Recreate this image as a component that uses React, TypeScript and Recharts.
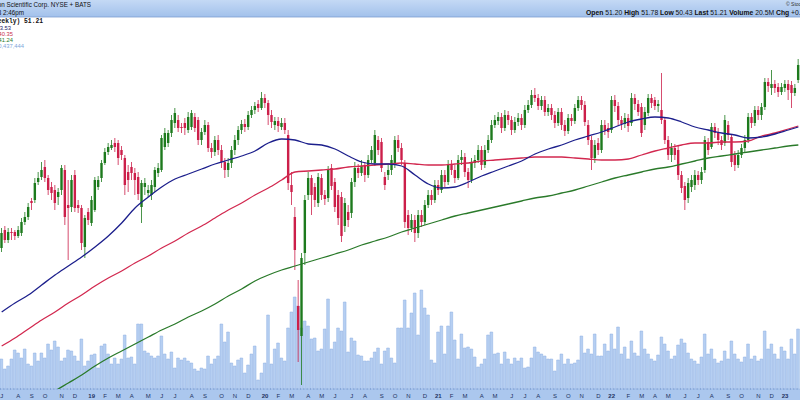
import { ComposedChart, Bar, Line, XAxis, YAxis } from 'recharts';

// weekly bars, first week starts Mon 2 Jul 2018
const firstWeek = Date.UTC(2018, 6, 2);
const WEEK_MS = 7 * 24 * 3600 * 1000;
const monthLetters = ['J', 'F', 'M', 'A', 'M', 'J', 'J', 'A', 'S', 'O', 'N', 'D'];

// [open, high, low, close]
const candles: number[][] = [
  [32.9, 34.9, 32.5, 34.4], [34.7, 35.1, 33.4, 33.7], [33.7, 34.9, 33.4, 34.5], [34.5, 34.9, 33.7, 34.4],
  [34.5, 34.7, 33.7, 34.1], [34.1, 35.1, 33.9, 34.7], [34.4, 35.9, 34.1, 35.5], [35.5, 36.5, 35.2, 36.0],
  [36.0, 37.4, 35.7, 37.0], [37.6, 37.9, 36.7, 37.4], [37.7, 39.9, 37.4, 39.4], [39.5, 40.5, 39.2, 39.9],
  [40.0, 41.5, 39.7, 40.7], [41.0, 41.7, 39.5, 39.9], [39.9, 40.2, 38.2, 38.7], [39.0, 39.5, 37.7, 38.4],
  [38.7, 39.2, 36.7, 37.4], [38.0, 38.9, 37.2, 38.5], [38.7, 41.2, 38.2, 40.9], [40.7, 41.2, 35.2, 36.0],
  [37.2, 39.7, 31.7, 36.9], [37.0, 40.2, 36.5, 39.7], [40.2, 40.7, 36.5, 36.9], [37.2, 37.7, 36.4, 36.9],
  [36.9, 37.2, 32.7, 33.4], [33.0, 36.2, 31.9, 35.9], [36.5, 36.9, 35.2, 35.7], [35.4, 38.1, 35.1, 37.7],
  [36.7, 40.0, 36.5, 39.7], [39.0, 40.1, 38.7, 39.7], [39.9, 41.7, 39.5, 41.4], [41.4, 42.9, 41.2, 42.5],
  [42.5, 43.4, 42.2, 43.0], [42.9, 43.7, 42.7, 43.2], [43.4, 43.9, 42.5, 43.0], [43.4, 43.7, 41.2, 41.9],
  [42.7, 43.1, 41.7, 42.2], [41.9, 42.2, 38.2, 39.2], [40.5, 41.2, 38.5, 39.7], [41.0, 41.5, 39.7, 40.4],
  [40.4, 40.9, 38.2, 39.7], [40.0, 40.5, 37.7, 38.3], [37.0, 39.7, 35.4, 39.4], [39.0, 39.9, 38.2, 39.4],
  [38.4, 39.2, 38.0, 38.7], [38.2, 39.7, 37.7, 39.2], [39.0, 41.0, 38.5, 40.7], [40.4, 41.4, 40.0, 40.9],
  [40.7, 44.2, 40.5, 43.9], [43.0, 44.9, 42.7, 44.4], [43.4, 44.7, 43.0, 44.4], [44.4, 46.2, 44.0, 45.7],
  [45.4, 46.9, 44.9, 46.4], [45.7, 46.2, 44.5, 44.9], [45.0, 45.4, 44.4, 44.9], [45.4, 45.9, 44.2, 44.9],
  [44.7, 46.5, 44.4, 46.0], [45.0, 46.7, 44.7, 46.4], [46.0, 46.4, 44.5, 44.9], [45.7, 46.0, 43.2, 43.7],
  [43.7, 44.9, 43.2, 44.5], [44.5, 45.7, 44.2, 45.2], [45.2, 45.5, 42.5, 42.9], [42.9, 43.4, 41.9, 42.5],
  [42.5, 44.1, 42.1, 43.7], [43.7, 44.2, 42.2, 42.7], [42.7, 43.2, 40.9, 41.5], [41.5, 41.9, 39.9, 40.7],
  [40.7, 41.9, 40.0, 41.4], [41.4, 43.1, 40.9, 42.7], [42.7, 44.2, 42.2, 43.7], [43.7, 45.1, 43.2, 44.7],
  [44.7, 45.7, 44.3, 45.3], [45.3, 45.8, 44.5, 45.0], [45.0, 46.6, 44.7, 46.2], [46.2, 47.1, 45.9, 46.7],
  [46.7, 47.5, 46.3, 47.1], [47.3, 47.7, 46.5, 46.9], [46.9, 48.5, 46.7, 47.9], [47.9, 48.3, 46.9, 47.4],
  [47.4, 47.7, 45.2, 46.2], [46.2, 46.7, 44.9, 45.5], [45.2, 46.0, 44.7, 45.6], [45.6, 46.0, 44.5, 45.1],
  [45.0, 45.9, 44.7, 45.4], [45.4, 45.9, 44.3, 44.7], [44.2, 44.7, 38.7, 39.4], [39.2, 40.5, 37.2, 38.5],
  [36.0, 37.0, 30.7, 32.7], [27.1, 29.7, 21.5, 24.7], [24.1, 32.4, 19.2, 31.9], [32.4, 38.2, 31.2, 37.7],
  [38.2, 40.5, 37.7, 39.9], [39.9, 40.2, 36.2, 38.2], [39.0, 39.4, 37.0, 37.7], [37.4, 40.4, 37.0, 40.0],
  [39.9, 40.3, 37.7, 38.2], [38.2, 38.7, 37.2, 37.8], [37.9, 41.1, 37.5, 40.7], [40.9, 41.3, 38.7, 39.1],
  [39.5, 39.9, 36.5, 37.0], [38.2, 38.7, 35.2, 35.9], [38.0, 38.5, 33.5, 34.1], [35.1, 37.9, 34.5, 37.4],
  [36.5, 37.2, 35.0, 35.7], [36.4, 39.9, 35.9, 39.5], [39.5, 41.5, 39.0, 40.9], [40.9, 41.3, 39.9, 40.4],
  [40.4, 41.7, 40.1, 41.1], [41.1, 41.5, 39.5, 40.2], [40.2, 42.2, 39.9, 41.7], [41.7, 43.1, 41.4, 42.7],
  [41.4, 44.7, 41.1, 44.2], [43.7, 44.1, 42.2, 42.7], [43.5, 43.9, 40.5, 40.9], [40.0, 40.5, 38.7, 39.2],
  [40.2, 41.2, 39.7, 40.7], [40.7, 42.2, 40.2, 41.7], [41.2, 44.1, 40.9, 43.7], [43.7, 44.2, 42.5, 42.9],
  [42.9, 43.4, 41.2, 41.7], [41.4, 41.7, 34.9, 35.5], [36.2, 36.7, 34.2, 34.9], [34.9, 36.3, 34.5, 35.7],
  [35.7, 36.2, 33.5, 34.4], [34.4, 36.7, 33.9, 36.2], [36.2, 36.7, 35.0, 35.5], [35.5, 37.7, 35.2, 37.2],
  [37.2, 38.7, 36.9, 38.2], [38.2, 38.7, 37.2, 37.7], [37.7, 39.7, 37.4, 39.2], [39.2, 39.7, 38.2, 38.7],
  [38.7, 40.7, 38.4, 40.2], [40.2, 40.7, 39.0, 39.5], [39.5, 41.7, 39.2, 41.2], [41.2, 41.7, 40.2, 40.7],
  [40.7, 41.2, 39.4, 39.9], [39.9, 42.2, 39.7, 41.7], [41.7, 42.7, 41.2, 42.0], [42.0, 42.4, 40.0, 40.5],
  [40.5, 40.9, 38.9, 39.7], [39.7, 41.9, 39.4, 41.4], [41.4, 42.2, 40.9, 41.7], [41.7, 43.2, 41.4, 42.7],
  [42.7, 43.1, 40.7, 41.2], [41.2, 43.2, 40.9, 42.7], [42.7, 44.2, 42.4, 43.7], [43.7, 45.7, 43.4, 45.2],
  [45.2, 46.2, 44.9, 45.7], [45.6, 46.5, 45.2, 46.0], [46.0, 46.4, 44.4, 44.9], [44.9, 46.7, 44.6, 46.2],
  [46.2, 46.6, 45.2, 45.7], [45.7, 46.1, 44.2, 44.7], [44.7, 46.0, 44.4, 45.5], [45.5, 46.4, 45.1, 45.9],
  [45.9, 46.3, 44.7, 45.2], [45.2, 47.2, 44.9, 46.7], [46.7, 47.7, 46.4, 47.2], [47.2, 48.7, 46.9, 48.2],
  [48.2, 48.9, 47.5, 47.9], [47.9, 48.3, 46.7, 47.1], [47.1, 48.1, 46.7, 47.7], [47.7, 48.1, 46.1, 46.5],
  [46.5, 47.3, 46.1, 46.9], [46.9, 47.3, 45.7, 46.2], [46.2, 46.6, 44.9, 45.4], [45.4, 46.9, 45.1, 46.5],
  [46.5, 46.9, 44.7, 45.2], [45.2, 45.7, 44.1, 44.6], [44.6, 46.3, 44.3, 45.9], [45.9, 46.3, 45.1, 45.6],
  [45.6, 47.3, 45.3, 46.9], [46.9, 48.1, 46.6, 47.7], [47.7, 48.1, 46.7, 47.2], [47.2, 47.6, 45.1, 45.5],
  [45.2, 45.7, 43.2, 43.7], [43.7, 44.1, 40.7, 41.9], [41.9, 43.7, 41.4, 43.2], [43.4, 43.9, 42.2, 42.7],
  [42.7, 45.7, 42.4, 45.2], [45.2, 45.7, 44.2, 44.7], [44.9, 45.4, 43.9, 44.5], [44.7, 48.1, 44.4, 47.7],
  [47.7, 48.2, 46.5, 47.1], [47.1, 47.5, 45.1, 45.7], [45.7, 46.1, 44.7, 45.3], [45.3, 46.4, 44.9, 45.9],
  [45.9, 46.3, 44.5, 45.1], [45.4, 48.4, 45.1, 47.9], [47.9, 48.3, 46.7, 47.3], [47.3, 47.7, 46.1, 46.5],
  [47.0, 47.4, 44.0, 44.4], [45.2, 47.0, 44.7, 46.5], [46.4, 48.3, 46.1, 47.9], [47.9, 48.3, 46.9, 47.4],
  [47.7, 48.0, 46.7, 47.1], [47.1, 47.7, 46.5, 47.3], [46.7, 50.4, 45.3, 45.7], [45.7, 46.0, 43.3, 43.7],
  [43.7, 44.1, 41.7, 42.2], [42.2, 43.4, 41.5, 42.9], [42.9, 43.3, 41.7, 42.2], [42.7, 43.1, 39.7, 40.2],
  [40.2, 40.6, 38.4, 38.9], [39.1, 39.5, 36.7, 37.7], [37.9, 39.9, 37.4, 39.4], [39.0, 40.2, 38.5, 39.7],
  [39.2, 40.7, 38.7, 40.2], [40.2, 40.6, 39.2, 39.7], [39.7, 41.0, 39.3, 40.5], [40.7, 44.1, 40.4, 43.7],
  [43.5, 43.9, 42.2, 42.7], [43.0, 45.4, 42.8, 45.0], [45.0, 45.4, 43.9, 44.4], [44.4, 44.9, 43.2, 43.7],
  [43.7, 44.1, 42.7, 43.2], [43.4, 46.2, 43.1, 45.7], [45.2, 45.6, 43.7, 44.2], [44.0, 44.3, 41.0, 41.5],
  [42.2, 42.6, 40.6, 41.2], [41.2, 42.7, 40.9, 42.2], [42.2, 43.3, 41.9, 42.9], [42.9, 44.2, 42.5, 43.7],
  [43.7, 46.4, 43.4, 46.0], [46.0, 46.4, 44.9, 45.4], [45.4, 47.1, 45.1, 46.7], [46.7, 47.1, 45.7, 46.2],
  [46.2, 47.4, 45.7, 47.0], [47.0, 49.9, 46.7, 49.5], [49.5, 49.9, 48.5, 49.1], [48.9, 50.7, 48.2, 49.3],
  [49.3, 49.7, 48.4, 48.9], [49.0, 49.4, 48.0, 48.5], [48.5, 49.4, 48.2, 49.0], [48.9, 49.7, 48.5, 49.3],
  [49.3, 49.7, 47.7, 48.7], [49.2, 49.6, 46.9, 48.4], [48.4, 49.3, 48.1, 48.9], [49.7, 51.8, 49.4, 51.2],
];

// weekly volume, millions
const volumes = [
  30, 20, 23, 30, 39, 36, 31, 40, 25, 23, 36, 28, 36, 31, 45, 39, 48, 42, 28, 31,
  39, 38, 33, 28, 50, 23, 28, 34, 35, 21, 43, 45, 35, 25, 31, 25, 30, 54, 31, 32,
  25, 65, 65, 38, 36, 33, 31, 33, 53, 35, 30, 37, 21, 31, 29, 31, 28, 26, 20, 18,
  21, 20, 33, 25, 30, 33, 65, 47, 57, 26, 23, 29, 31, 16, 24, 35, 43, 9, 16, 26,
  74, 25, 40, 46, 31, 28, 61, 77, 92, 83, 61, 68, 63, 50, 51, 38, 40, 60, 90, 40,
  47, 61, 58, 87, 37, 51, 48, 34, 33, 28, 28, 31, 37, 41, 25, 38, 41, 31, 26, 61,
  61, 89, 61, 76, 96, 54, 99, 81, 74, 29, 26, 57, 63, 35, 63, 77, 49, 30, 55, 41,
  42, 40, 32, 22, 25, 30, 54, 57, 35, 36, 25, 37, 30, 25, 31, 28, 31, 21, 22, 31,
  42, 37, 35, 33, 30, 30, 18, 29, 35, 25, 30, 25, 26, 29, 53, 36, 40, 35, 55, 33,
  33, 45, 38, 55, 40, 62, 35, 42, 30, 48, 36, 33, 58, 40, 35, 30, 28, 34, 52, 45,
  38, 30, 33, 44, 50, 46, 36, 30, 28, 25, 32, 55, 35, 40, 30, 26, 28, 38, 30, 48,
  35, 30, 27, 32, 45, 30, 33, 28, 30, 58, 40, 45, 35, 30, 42, 38, 30, 50, 35, 60,
];

// moving averages, one value every 4th week plus the last week
const ma50 = [
  26.5, 27.4, 28.2, 29.2, 30.2, 31.1, 32.0, 33.0, 34.1, 35.4, 36.9, 38.0, 39.0, 39.8, 40.3, 40.8,
  41.3, 41.7, 42.1, 42.6, 43.4, 43.8, 43.7, 43.3, 43.2, 42.8, 42.1, 41.5, 41.3, 41.3, 41.1, 40.2,
  39.3, 38.9, 39.0, 39.5, 40.1, 40.6, 41.1, 41.6, 42.3, 42.8, 43.2, 43.7, 44.1, 44.5, 45.0, 45.5,
  45.8, 46.0, 45.9, 45.5, 45.0, 44.7, 44.4, 44.2, 43.9, 44.0, 44.3, 44.7, 45.0,
];
const ma100 = [
  23.1, 23.9, 24.8, 25.7, 26.5, 27.4, 28.2, 29.1, 29.9, 30.6, 31.4, 32.1, 32.9, 33.6, 34.4, 35.1,
  35.9, 36.7, 37.4, 38.2, 38.9, 39.7, 40.5, 40.6, 40.7, 40.8, 41.0, 41.1, 41.2, 41.3, 41.4, 41.3,
  41.2, 41.2, 41.3, 41.4, 41.6, 41.7, 41.8, 41.9, 42.0, 42.0, 42.0, 41.9, 41.8, 41.7, 41.7, 41.8,
  42.2, 42.6, 42.9, 43.2, 43.4, 43.4, 43.5, 43.5, 43.6, 44.1, 44.4, 44.8, 45.1,
];
const ma200 = [
  15.0, 15.9, 16.8, 17.7, 18.6, 19.4, 20.2, 21.1, 21.9, 22.6, 23.3, 24.0, 24.7, 25.3, 26.0, 26.6,
  27.3, 28.1, 28.8, 29.6, 30.2, 30.7, 31.1, 31.5, 31.9, 32.3, 32.7, 33.2, 33.6, 34.0, 34.5, 34.9,
  35.3, 35.7, 36.1, 36.4, 36.7, 37.0, 37.3, 37.6, 37.9, 38.1, 38.4, 38.7, 39.1, 39.5, 39.9, 40.2,
  40.5, 40.8, 41.0, 41.3, 41.6, 41.9, 42.1, 42.3, 42.5, 42.7, 42.9, 43.1, 43.2,
];

const last = candles.length - 1;

const data = candles.map(([open, high, low, close], i) => ({
  i,
  date: new Date(firstWeek + i * WEEK_MS),
  open,
  high,
  low,
  close,
  volume: volumes[i],
}));

// each moving average gets its own small table on a numeric week axis
const toPoints = (arr: number[]) =>
  arr.map((v, k) => ({ i: k === arr.length - 1 ? last : k * 4, v }));
const ma50Points = toPoints(ma50);
const ma100Points = toPoints(ma100);
const ma200Points = toPoints(ma200);

const monthTicks = data
  .filter((d, k) => k === 0 || d.date.getUTCMonth() !== data[k - 1].date.getUTCMonth())
  .map((d) => d.i);

const FONT = '"Liberation Sans", Arial, sans-serif';

function MonthTick({ x, payload }: any) {
  const d = data[payload.value];
  const m = d.date.getUTCMonth();
  const isYear = m === 0;
  return (
    <text x={x} y={397.5} textAnchor="middle" fontSize={6} fontFamily={FONT}
      fontWeight={isYear ? 700 : 400} fill="#22325e">
      {isYear ? String(d.date.getUTCFullYear()).slice(2) : monthLetters[m]}
    </text>
  );
}

function Candle(props: any) {
  const { x, y, width, height, payload } = props;
  const { open, close, high, low } = payload;
  const top = Math.min(y, y + height);
  const bottom = Math.max(y, y + height);
  const ppu = high === low ? 0 : (bottom - top) / (high - low);
  const yOf = (v: number) => top + (high - v) * ppu;
  const cx = x + width / 2;
  const up = close >= open;
  const color = up ? '#1d7a1d' : '#cc1f4a';
  const bTop = yOf(Math.max(open, close));
  const bBot = yOf(Math.min(open, close));
  return (
    <g>
      <line x1={cx} x2={cx} y1={top} y2={bottom} stroke={color} strokeWidth={0.8} />
      <rect x={cx - 1.2} y={bTop} width={2.4} height={Math.max(bBot - bTop, 0.8)} fill={color} />
    </g>
  );
}

const lineProps = {
  xAxisId: 'n',
  yAxisId: 'p',
  dataKey: 'v',
  type: 'monotone' as const,
  strokeWidth: 1.3,
  dot: false,
  activeDot: false,
  legendType: 'none' as const,
  isAnimationActive: false,
};

export default function App() {
  return (
    <div style={{ position: 'absolute', left: 0, top: 0, width: 800, height: 400, background: '#fff', overflow: 'hidden' }}>
      <div style={{ position: 'absolute', left: 0, top: 389, width: 800, height: 11, background: '#abc7ee' }} />
      <div style={{ position: 'absolute', left: 0, top: 0 }}>
        <ComposedChart width={800} height={400} data={data} margin={{ top: 0, right: 0, bottom: 0, left: 0 }}>
          <XAxis xAxisId="m" dataKey="i" type="category" ticks={monthTicks} interval={0}
            tick={<MonthTick />} tickLine={false} height={11}
            axisLine={{ stroke: '#6b8cc4', strokeDasharray: '1 2.333' }} />
          <XAxis xAxisId="v" dataKey="i" type="category" hide />
          <XAxis xAxisId="n" dataKey="i" type="number" domain={[-0.5, last + 0.5]} hide allowDataOverflow />
          <YAxis yAxisId="p" type="number" domain={[18.8, 57.7]} hide allowDataOverflow />
          <YAxis yAxisId="v" type="number" domain={[0, 389]} hide />
          <Bar xAxisId="v" yAxisId="v" dataKey="volume" fill="#b6cff2" stroke="#8caee0"
            strokeWidth={0.5} barSize={2.7} isAnimationActive={false} />
          <Bar xAxisId="m" yAxisId="p" dataKey={(d: any) => [d.low, d.high]} barSize={3}
            shape={Candle} isAnimationActive={false} />
          <Line {...lineProps} data={ma200Points} stroke="#2a7a2a" />
          <Line {...lineProps} data={ma100Points} stroke="#d2284f" />
          <Line {...lineProps} data={ma50Points} stroke="#1c1f8c" />
        </ComposedChart>
      </div>
      <svg width={800} height={52} style={{ position: 'absolute', left: 0, top: 0, pointerEvents: 'none' }}
        fontFamily={FONT}>
        <defs>
          <linearGradient id="hdr" x1="0" y1="0" x2="0" y2="1">
            <stop offset="0" stopColor="#c4d9f5" />
            <stop offset="1" stopColor="#a2c1eb" />
          </linearGradient>
        </defs>
        <rect x={0} y={0} width={800} height={17} fill="url(#hdr)" />
        <line x1={0} x2={800} y1={17} y2={17} stroke="#7f9fd0" strokeWidth={0.8} />
        <text x={91} y={7.3} textAnchor="end" fontSize={6.3} fill="#111">BSX Boston Scientific Corp. NYSE + BATS</text>
        <text x={24} y={15} textAnchor="end" fontSize={6.3} fill="#111">31-Jan-2023 2:46pm</text>
        <text x={786} y={5.5} fontSize={5} fill="#333">© StockCharts.com</text>
        <text x={586} y={15} fontSize={6.8} fill="#111">
          <tspan fontWeight={700}>Open</tspan> 51.20 <tspan fontWeight={700}>High</tspan> 51.78{' '}
          <tspan fontWeight={700}>Low</tspan> 50.43 <tspan fontWeight={700}>Last</tspan> 51.21{' '}
          <tspan fontWeight={700}>Volume</tspan> 20.5M <tspan fontWeight={700}>Chg</tspan> +0.04 (+0.08%)
        </text>
        <text x={43} y={23} textAnchor="end" fontSize={6.3} fontWeight={700}
          fontFamily='"Liberation Mono", monospace' fill="#111">BSX (Weekly) 51.21</text>
        <text x={11} y={29.5} textAnchor="end" fontSize={5.8} fill="#1c1f6c">MA(50) 43.53</text>
        <text x={13} y={35.5} textAnchor="end" fontSize={5.8} fill="#c8304f">MA(100) 40.35</text>
        <text x={13} y={42} textAnchor="end" fontSize={5.8} fill="#2a7a2a">MA(200) 41.24</text>
        <text x={24} y={48} textAnchor="end" fontSize={5.8} fill="#7ea6da">Volume 20,437,444</text>
      </svg>
    </div>
  );
}
